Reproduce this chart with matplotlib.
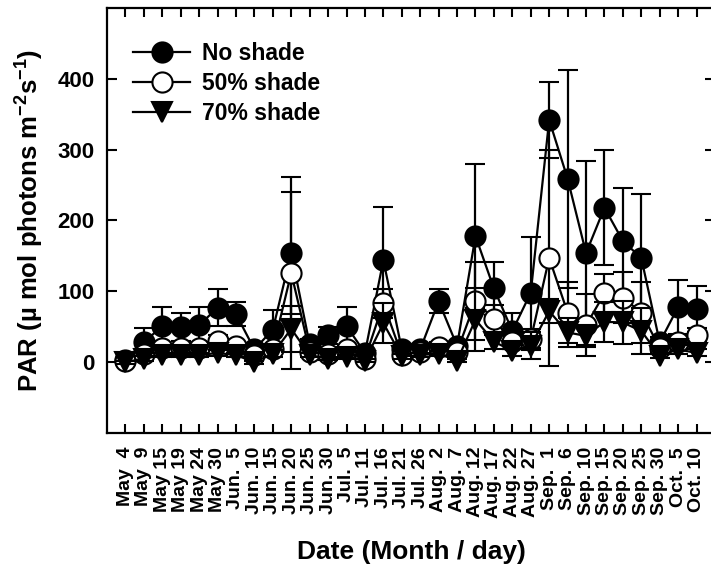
import matplotlib
matplotlib.use("Agg")
import matplotlib.pyplot as plt
from matplotlib.lines import Line2D
import numpy as np

plt.rcParams['font.family'] = ['Liberation Sans', 'DejaVu Sans']
plt.rcParams['font.weight'] = 'bold'
plt.rcParams['mathtext.default'] = 'regular'

# Sampling dates (month / day)
months = ["May"] * 6 + ["Jun."] * 6 + ["Jul."] * 5 + ["Aug."] * 6 + ["Sep."] * 7 + ["Oct."] * 2
days = [4, 9, 15, 19, 24, 30,
        5, 10, 15, 20, 25, 30,
        5, 11, 16, 21, 26,
        2, 7, 12, 17, 22, 27,
        1, 6, 10, 15, 20, 25, 30,
        5, 10]

# PAR means and standard deviations (umol photons m-2 s-1)
no_shade = [3, 28, 51, 50, 52, 77, 68, 18, 46, 154, 25, 38, 51, 13, 144, 18, 18,
            86, 23, 178, 104, 44, 98, 342, 259, 154, 218, 171, 147, 28, 78, 75]
no_shade_sd = [2, 20, 27, 20, 26, 26, 17, 6, 27, 86, 8, 12, 27, 5, 75, 5, 8,
               17, 6, 102, 37, 25, 78, 54, 154, 130, 81, 75, 91, 8, 38, 32]

shade50 = [2, 12, 20, 20, 20, 30, 23, 10, 18, 126, 15, 12, 18, 5, 83, 10, 15,
           22, 15, 86, 61, 28, 32, 147, 70, 52, 97, 91, 70, 20, 28, 38]
shade50_sd = [2, 5, 6, 5, 6, 8, 6, 4, 6, 135, 5, 4, 5, 3, 20, 4, 5,
              6, 5, 55, 20, 10, 15, 152, 43, 44, 28, 36, 43, 5, 10, 10]

shade70 = [0, 5, 10, 10, 10, 13, 10, 0, 12, 47, 10, 5, 7, 2, 55, 8, 10,
           12, 2, 60, 29, 16, 23, 72, 42, 37, 57, 56, 44, 9, 18, 13]
shade70_sd = [2, 3, 3, 3, 3, 4, 3, 2, 5, 32, 3, 2, 3, 2, 28, 3, 3,
              4, 2, 44, 10, 8, 19, 17, 21, 15, 28, 31, 32, 3, 6, 5]

series_names = ["No shade", "50% shade", "70% shade"]

# Day numbers padded so month names line up (two spaces = one digit width)
tick_labels = [f"{m}  {d}" if d < 10 else f"{m} {d}" for m, d in zip(months, days)]

fig = plt.figure(figsize=(7.11, 5.67), dpi=100)
ax = fig.add_axes([107 / 711, 134 / 567, 608 / 711, 425 / 567])

x = np.arange(len(days))

common = dict(color='black', lw=1.6, elinewidth=1.6, capsize=7, capthick=1.8,
              markeredgecolor='black', markeredgewidth=1.5)

ax.errorbar(x, no_shade, yerr=no_shade_sd, fmt='-o', ms=14.5,
            markerfacecolor='black', zorder=3, **common)
ax.errorbar(x, shade50, yerr=shade50_sd, fmt='-o', ms=14.5,
            markerfacecolor='white', zorder=4, **common)
ax.errorbar(x, shade70, yerr=shade70_sd, fmt='-v', ms=15,
            markerfacecolor='black', zorder=5, **common)

ax.set_xlim(-1, 32)
ax.set_ylim(-100, 500)
ax.set_yticks([0, 100, 200, 300, 400])
ax.set_xticks(x)
ax.set_xticklabels(tick_labels, rotation=90, fontsize=14, fontweight='bold')
ax.tick_params(axis='y', labelsize=16, direction='in', length=7, width=1.5,
               left=True, right=True, pad=9)
ax.tick_params(axis='x', direction='in', length=6.5, width=1.5,
               bottom=True, top=True, pad=10)
for s in ax.spines.values():
    s.set_linewidth(1.6)

ax.set_ylabel("PAR (µ mol photons m$^{-2}$s$^{-1}$)", fontsize=18.5,
              fontweight='bold', labelpad=8)
ax.set_xlabel("Date (Month / day)", fontsize=19, fontweight='bold', labelpad=16)

handles = [
    Line2D([], [], color='black', lw=1.6, marker='o', ms=14.5,
           markerfacecolor='black', markeredgecolor='black', markeredgewidth=1.5),
    Line2D([], [], color='black', lw=1.6, marker='o', ms=14.5,
           markerfacecolor='white', markeredgecolor='black', markeredgewidth=1.5),
    Line2D([], [], color='black', lw=1.6, marker='v', ms=15,
           markerfacecolor='black', markeredgecolor='black', markeredgewidth=1.5),
]
ax.legend(handles, series_names, loc='upper left', frameon=False,
          bbox_to_anchor=(26 / 608, 1 - 34 / 425), borderaxespad=0, borderpad=0,
          handlelength=2.5, handletextpad=0.5, labelspacing=0.3,
          prop={'size': 16.5, 'weight': 'bold'})

fig.savefig("out.png", dpi=100)
